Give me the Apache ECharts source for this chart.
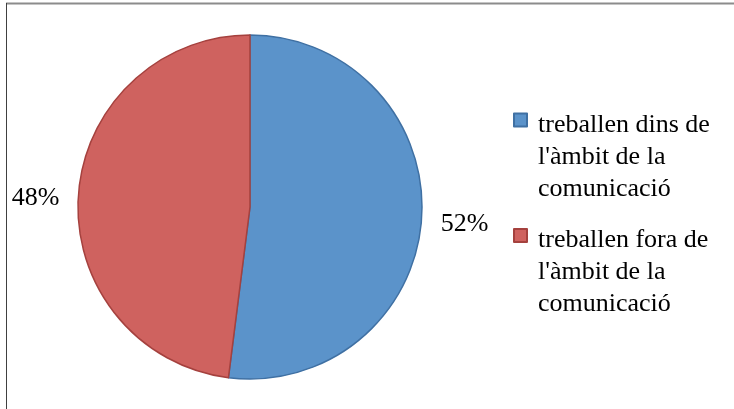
<!DOCTYPE html>
<html>
<head>
<meta charset="utf-8">
<script src="https://cdn.jsdelivr.net/npm/echarts@6/dist/echarts.min.js"></script>
<style>
html,body{margin:0;padding:0;background:#fff;}
#chart{width:734px;height:409px;}
</style>
</head>
<body>
<div id="chart"></div>
<script>
const categories = ["treballen dins de\nl'àmbit de la\ncomunicació", "treballen fora de\nl'àmbit de la\ncomunicació"];
const values = [52, 48];
const colors = ['#5B93CA', '#CF625F'];
const borderColors = ['#3F70A3', '#A5413E'];

const chart = echarts.init(document.getElementById('chart'));
const font = "'Liberation Serif', 'Times New Roman', serif";
const legendText = {
  fontFamily: font, fontSize: 26, color: '#000', lineHeight: 32,
  padding: [0, 0, 0, 6],
  rich: { gap: { fontSize: 2, lineHeight: 74 } }
};
const legendFormatter = name => '{gap| }\n' + name;
chart.setOption({
  animation: false,
  graphic: [
    { type: 'line', shape: { x1: 6, y1: 3.5, x2: 734, y2: 3.5 }, style: { stroke: '#8c8c8c', lineWidth: 2 } },
    { type: 'line', shape: { x1: 6.5, y1: 3, x2: 6.5, y2: 409 }, style: { stroke: '#404040', lineWidth: 1 } }
  ],
  legend: [
    { data: [categories[0]], left: 513, top: 35, orient: 'vertical', padding: 0, formatter: legendFormatter,
      icon: 'rect', itemWidth: 13, itemHeight: 13, textStyle: legendText },
    { data: [categories[1]], left: 513, top: 150.5, orient: 'vertical', padding: 0, formatter: legendFormatter,
      icon: 'rect', itemWidth: 13, itemHeight: 13, textStyle: legendText }
  ],
  series: [{
    type: 'pie',
    center: [250, 207],
    radius: 172,
    startAngle: 90,
    clockwise: true,
    avoidLabelOverlap: false,
    data: categories.map((c, i) => ({
      name: c, value: values[i],
      itemStyle: { color: colors[i], borderColor: borderColors[i], borderWidth: 1.5 }
    })),
    label: {
      show: true, position: 'outside', formatter: '{d}%',
      fontFamily: font, fontSize: 26, color: '#000'
    },
    labelLine: { show: false, length: 14, length2: 0 },
    labelLayout: params => ({ dy: params.dataIndex === 0 ? 5 : 3 }),
    emphasis: { disabled: true }
  }]
});
</script>
</body>
</html>
